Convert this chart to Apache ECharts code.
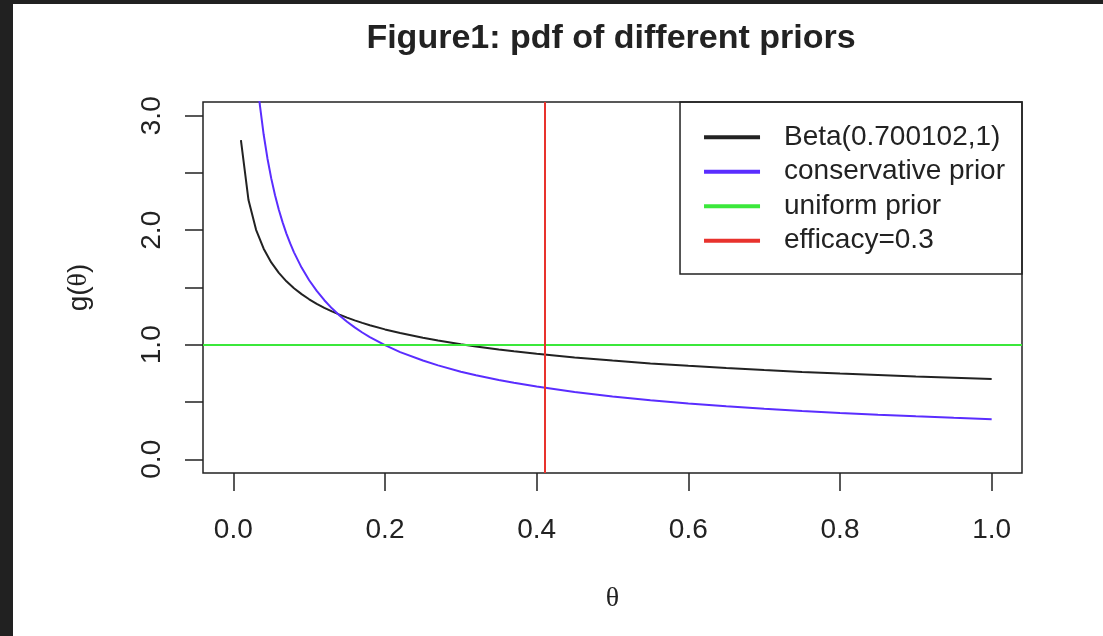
<!DOCTYPE html>
<html>
<head>
<meta charset="utf-8">
<title>Figure1: pdf of different priors</title>
<script src="https://cdn.jsdelivr.net/npm/echarts@6/dist/echarts.min.js"></script>
<style>
  html, body { margin: 0; padding: 0; background: #fff; }
  #chart { position: absolute; left: 0; top: 0; width: 1103px; height: 636px; }
  .edge { position: absolute; background: #212121; }
</style>
</head>
<body>
<div id="chart"></div>
<div class="edge" style="left:0;top:0;width:1103px;height:4px"></div>
<div class="edge" style="left:0;top:0;width:13px;height:636px"></div>
<script>
// values
const thetaBeta = [0.01, 0.02, 0.03, 0.04, 0.05, 0.06, 0.07, 0.08, 0.09, 0.10, 0.11, 0.12, 0.13, 0.14, 0.15, 0.16, 0.17, 0.18, 0.20, 0.22, 0.25, 0.27, 0.30, 0.32, 0.35, 0.37, 0.40, 0.45, 0.50, 0.55, 0.60, 0.65, 0.70, 0.75, 0.80, 0.85, 0.90, 0.95, 1.00]
const densityBeta = [2.787, 2.264, 2.004, 1.839, 1.719, 1.628, 1.554, 1.493, 1.442, 1.397, 1.357, 1.322, 1.291, 1.263, 1.237, 1.213, 1.191, 1.171, 1.134, 1.103, 1.061, 1.037, 1.005, 0.985, 0.959, 0.943, 0.921, 0.889, 0.862, 0.837, 0.816, 0.797, 0.779, 0.763, 0.748, 0.735, 0.722, 0.711, 0.700]

const thetaConservative = [0.03, 0.035, 0.04, 0.045, 0.05, 0.055, 0.06, 0.065, 0.07, 0.075, 0.08, 0.09, 0.10, 0.11, 0.12, 0.13, 0.14, 0.15, 0.16, 0.17, 0.18, 0.20, 0.22, 0.25, 0.27, 0.30, 0.32, 0.35, 0.37, 0.40, 0.45, 0.50, 0.55, 0.60, 0.65, 0.70, 0.75, 0.80, 0.85, 0.90, 0.95, 1.00]
const densityConservative = [3.420, 3.093, 2.836, 2.627, 2.453, 2.306, 2.179, 2.069, 1.971, 1.885, 1.807, 1.674, 1.563, 1.470, 1.389, 1.318, 1.256, 1.201, 1.152, 1.107, 1.067, 0.996, 0.936, 0.862, 0.820, 0.765, 0.734, 0.693, 0.668, 0.635, 0.588, 0.549, 0.516, 0.488, 0.463, 0.441, 0.422, 0.405, 0.389, 0.375, 0.362, 0.350]

const uniformDensity = 1
const efficacyTheta = 0.412

const seriesNames = ['Beta(0.700102,1)', 'conservative prior', 'uniform prior', 'efficacy=0.3']
const seriesColors = ['#222222', '#5a2dff', '#3be83b', '#e8322d']

const xTicks = [0, 0.2, 0.4, 0.6, 0.8, 1.0]
const yTicks = [0, 0.5, 1, 1.5, 2, 2.5, 3]
const yLabels = [0, 1, 2, 3]

const SANS = '"Liberation Sans", Arial, sans-serif'
const SERIF = '"Liberation Serif", "DejaVu Serif", serif'
const INK = '#222'

const pairs = (xs, ys) => xs.map((x, i) => [x, ys[i]])

// vertical / horizontal reference lines drawn across the whole plot
const refLine = (color, point) => ({
  silent: true,
  symbol: ['none', 'none'],
  label: { show: false },
  lineStyle: { color, width: 2, type: 'solid' },
  data: [point],
})

const chart = echarts.init(document.getElementById('chart'))

const option = {
  animation: false,
  backgroundColor: '#fff',
  title: {
    text: 'Figure1: pdf of different priors',
    left: 611,
    top: 22,
    padding: 0,
    textAlign: 'center',
    textStyle: { fontFamily: SANS, fontSize: 34, fontWeight: 'bold', color: INK },
  },
  legend: {
    orient: 'vertical',
    right: 81,
    top: 102,
    padding: [18, 17, 16, 24],
    borderColor: INK,
    borderWidth: 1.5,
    itemWidth: 56,
    itemHeight: 4,
    itemGap: 0,
    icon: 'rect',
    selectedMode: false,
    data: seriesNames,
    textStyle: { fontFamily: SANS, fontSize: 28, color: INK, lineHeight: 34.5, padding: [0, 0, 0, 19] },
  },
  grid: {
    left: 203,
    top: 102,
    width: 819,
    height: 371,
    show: true,
    borderColor: INK,
    borderWidth: 1.5,
    backgroundColor: 'transparent',
  },
  xAxis: {
    type: 'value',
    min: -0.04,
    max: 1.04,
    name: 'θ',
    nameLocation: 'middle',
    nameGap: 112,
    nameTextStyle: { fontFamily: SERIF, fontSize: 28, color: INK },
    axisLine: { show: false, onZero: false },
    axisTick: { show: true, customValues: xTicks, length: 18, lineStyle: { color: INK, width: 1.5 } },
    axisLabel: {
      customValues: xTicks,
      formatter: v => v.toFixed(1),
      margin: 43,
      fontFamily: SANS, fontSize: 28, color: INK,
    },
    splitLine: { show: false },
  },
  yAxis: {
    type: 'value',
    min: -0.12,
    max: 3.12,
    name: '{a|g(}{b|θ}{a|)}',
    nameLocation: 'middle',
    nameRotate: 90,
    nameGap: 110,
    nameTextStyle: {
      rich: {
        a: { fontFamily: SANS, fontSize: 28, color: INK },
        b: { fontFamily: SERIF, fontSize: 28, color: INK },
      },
    },
    axisLine: { show: false, onZero: false },
    axisTick: { show: true, customValues: yTicks, length: 18, lineStyle: { color: INK, width: 1.5 } },
    axisLabel: {
      customValues: yLabels,
      rotate: 90,
      formatter: v => v.toFixed(1),
      margin: 37,
      fontFamily: SANS, fontSize: 28, color: INK,
    },
    splitLine: { show: false },
  },
  series: [
    {
      name: seriesNames[0],
      type: 'line',
      data: pairs(thetaBeta, densityBeta),
      showSymbol: false,
      silent: true,
      itemStyle: { color: seriesColors[0] },
      lineStyle: { color: seriesColors[0], width: 2 },
    },
    {
      name: seriesNames[1],
      type: 'line',
      data: pairs(thetaConservative, densityConservative),
      showSymbol: false,
      silent: true,
      clip: true,
      itemStyle: { color: seriesColors[1] },
      lineStyle: { color: seriesColors[1], width: 2 },
    },
    {
      name: seriesNames[2],
      type: 'line',
      data: [],
      itemStyle: { color: seriesColors[2] },
      markLine: refLine(seriesColors[2], { yAxis: uniformDensity }),
    },
    {
      name: seriesNames[3],
      type: 'line',
      data: [],
      itemStyle: { color: seriesColors[3] },
      markLine: refLine(seriesColors[3], { xAxis: efficacyTheta }),
    },
  ],
}

chart.setOption(option)
</script>
</body>
</html>
